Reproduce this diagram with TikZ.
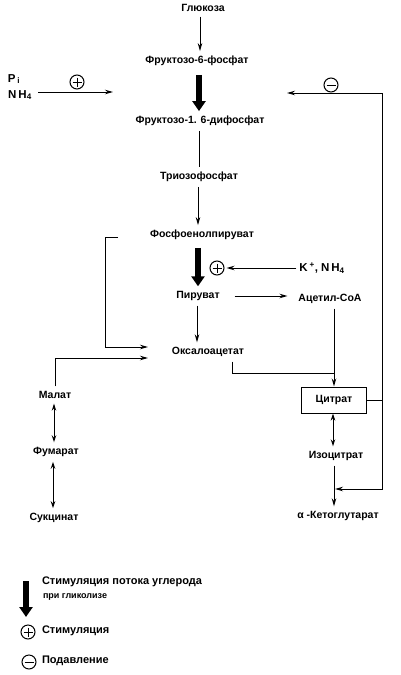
\documentclass[tikz,border=0pt]{standalone}
\usepackage{fontspec}
\setmainfont{Liberation Sans}
\usetikzlibrary{arrows.meta}
\tikzset{
  lbl/.style={font=\fontsize{10.5}{12}\selectfont\bfseries, inner sep=0pt, outer sep=5pt},
  big/.style={font=\fontsize{11.5}{13}\selectfont\bfseries, inner sep=0pt, outer sep=3pt},
  arr/.style={line width=1pt, -{Stealth[length=8pt,width=4.5pt]}},
  darr/.style={line width=1pt, {Stealth[length=7pt,width=4.5pt]}-{Stealth[length=7pt,width=4.5pt]}},
  ln/.style={line width=1pt},
  thick arrow/.style={line width=6.5pt, -{Triangle[length=10pt,width=13pt]}},
  sign/.style={circle, draw, line width=1pt, minimum size=14pt, inner sep=0pt},
  plus/.style={sign, path picture={\draw[line width=1pt] (path picture bounding box.center) +(-4.5,0) -- +(4.5,0) (path picture bounding box.center) +(0,-4.5) -- +(0,4.5);}},
  minus/.style={sign, path picture={\draw[line width=1pt] (path picture bounding box.center) +(-4.5,0) -- +(4.5,0);}},
  citbox/.style={draw, line width=1pt, minimum width=65pt, minimum height=26pt, inner sep=0pt, font=\fontsize{10.5}{12}\selectfont\bfseries}
}
\begin{document}
\begin{tikzpicture}[x=1pt,y=-1pt]
\useasboundingbox (0,0) rectangle (400,675);
% main chain
\node[lbl] (glc) at (203,8) {Глюкоза};
\node[lbl] (f6p) at (197,61) {Фруктозо-6-фосфат};
\node[lbl] (f16) at (200,121) {Фруктозо-1. 6-дифосфат};
\node[lbl] (tri) at (199,177) {Триозофосфат};
\node[lbl] (pep) at (202,235) {Фосфоенолпируват};
\node[lbl] (pyr) at (198,296) {Пируват};
\node[lbl] (acoa) at (330,299) {Ацетил-СоА};
\node[lbl] (oaa) at (208,352) {Оксалоацетат};
\node[citbox] (cit) at (334,400) {Цитрат};
\node[lbl] (icit) at (336,456) {Изоцитрат};
\node[lbl] (akg) at (338,516) {α -Кетоглутарат};
\node[lbl] (mal) at (55,395) {Малат};
\node[lbl] (fum) at (56,452) {Фумарат};
\node[lbl] (suc) at (54,518) {Сукцинат};
% effectors
\node[big] (pi) at (14,79) {P\,\textsubscript{i}};
\node[big] (nh) at (20,95) {N\,H\textsubscript{4}};
\node[big] (kn) at (322,268) {K\,\textsuperscript{+}, N\,H\textsubscript{4}};
\node[plus] (p1) at (77,82) {};
\node[minus] (m1) at (331,85) {};
\node[plus] (p2) at (217,268) {};
% coordinates
\coordinate (pistart) at (38,92);
\coordinate (piend) at (113,92);
\coordinate (fbend) at (287,93);
\coordinate (fbtop) at (382,93);
\coordinate (fbbot) at (382,489);
\coordinate (fbjoin) at (335,489);
\coordinate (b1) at (118,237);
\coordinate (b2) at (105,237);
\coordinate (b3) at (105,347);
\coordinate (b4) at (148,347);
\coordinate (m2) at (55,358);
\coordinate (m3) at (148,358);
\coordinate (oj) at (232,373);
% connectors
\draw[arr] ([xshift=-3pt]glc.south) -- ([xshift=-3pt]glc.south |- f6p.north);
\draw[thick arrow, shorten <=4pt] ([xshift=2pt]f6p.south) -- ([xshift=2pt]f6p.south |- f16.north);
\draw[ln] ([xshift=-1pt]f16.south) -- ([xshift=-1pt]f16.south |- tri.north);
\draw[arr] ([xshift=-1pt]tri.south) -- ([xshift=-1pt]tri.south |- pep.north);
\draw[thick arrow, shorten <=3pt] ([xshift=-4pt]pep.south) -- ([xshift=-4pt]pep.south |- pyr.north);
\draw[arr, shorten <=10pt, shorten >=6pt] (pyr) -- (pyr -| acoa.west);
\draw[arr] ([xshift=-1pt]pyr.south) -- ([xshift=-1pt]pyr.south |- oaa.north);
\draw[arr, shorten >=2pt] (kn) -- (p2);
\draw[arr] (pistart) -- (piend);
\draw[ln] (cit.east) -| (fbtop);
\draw[arr] (fbtop) -- (fbend);
\draw[arr] (cit.east -| fbtop) -- (fbbot) -- (fbjoin);
\draw[arr] (b1) -- (b2) -- (b3) -- (b4);
\draw[arr] (mal.north -| m2) -- (m2) -- (m3);
\draw[ln] (oj |- oaa.south) -- (oj) -- (oj -| cit.north);
\draw[arr] (acoa.south -| cit.north) -- (cit.north);
\draw[darr] ([xshift=-1pt]cit.south) -- ([xshift=-1pt]cit.south |- icit.north);
\draw[arr] (icit.south -| cit.south) -- (cit.south |- akg.north);
\draw[darr] ([xshift=-1pt]mal.south) -- ([xshift=-1pt]mal.south |- fum.north);
\draw[darr] ([xshift=-3pt]fum.south) -- ([xshift=-3pt]fum.south |- suc.north);
% legend
\coordinate (lg1) at (26,581);
\coordinate (lg2) at (26,617);
\draw[thick arrow] (lg1) -- (lg2);
\node[lbl, anchor=west, outer sep=0pt, font=\fontsize{11}{12}\selectfont\bfseries] (lt1) at (42,582) {Стимуляция потока углерода};
\node[lbl, anchor=west, outer sep=0pt, font=\fontsize{9}{10}\selectfont\bfseries] (lt2) at (43,597) {при гликолизе};
\node[plus] (lp) at (28,632) {};
\node[lbl, anchor=west, outer sep=0pt, font=\fontsize{11}{12}\selectfont\bfseries] (lt3) at (42,631) {Стимуляция};
\node[minus] (lm) at (29,662) {};
\node[lbl, anchor=west, outer sep=0pt, font=\fontsize{11}{12}\selectfont\bfseries] (lt4) at (42,661) {Подавление};
\end{tikzpicture}
\end{document}
